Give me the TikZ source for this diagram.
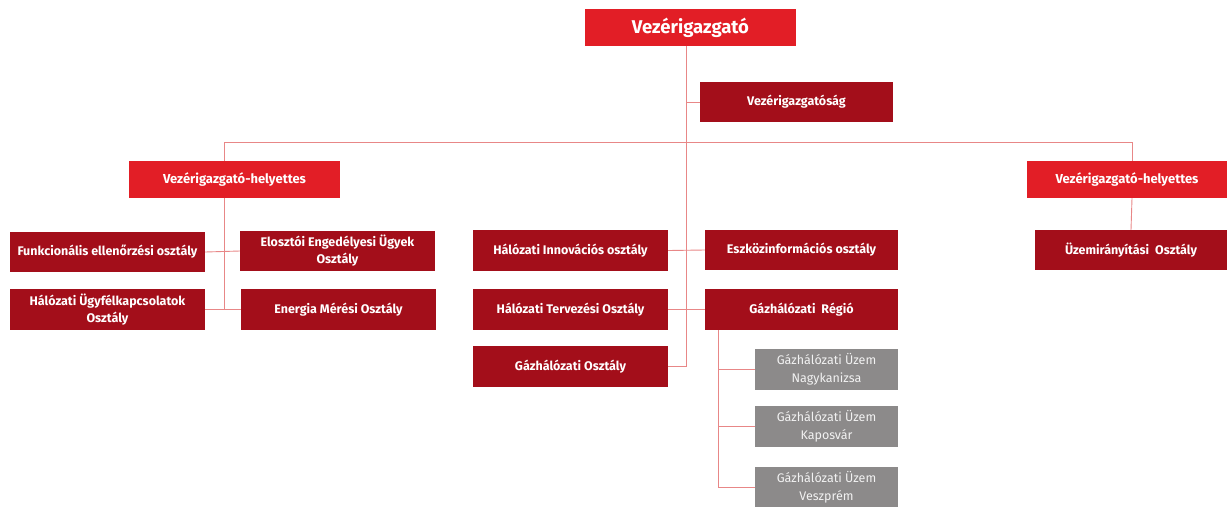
\documentclass[tikz,border=0pt]{standalone}
\usepackage{fontspec}
\setmainfont{Fira Sans}
\usepackage{xcolor}
\usepackage{tikz}
\usetikzlibrary{positioning,calc}

\definecolor{topred}{RGB}{226,30,38}
\definecolor{darkred}{RGB}{163,14,26}
\definecolor{unitgray}{RGB}{140,138,138}
\definecolor{linkred}{RGB}{232,135,135}

\begin{document}
\begin{tikzpicture}[x=1pt,y=-1pt,
    headbox/.style={rectangle, fill=topred, text=white, font=\bfseries\fontsize{13}{15}\selectfont, minimum height=37pt, inner sep=2pt, align=center},
    deptbox/.style={rectangle, fill=darkred, text=white, font=\bfseries\fontsize{12.5}{17}\selectfont, minimum width=195pt, minimum height=41pt, inner sep=2pt, align=center},
    plantbox/.style={rectangle, fill=unitgray, text=white!90!gray, font=\fontsize{12.5}{18}\selectfont, minimum width=143pt, minimum height=41pt, inner sep=1pt, align=center},
    link/.style={draw=linkred, line width=0.9pt}]
    \useasboundingbox (0,0) rectangle (1227,507);

    % vezetes
    \node (ceo) [headbox, minimum width=211pt, font=\bfseries\fontsize{18.5}{22}\selectfont] at (690.5,27.5) {Vezérigazgató};
    \node (vig) [deptbox, minimum width=193pt, minimum height=40pt] at (796.5,102) {Vezérigazgatóság};
    \node (vhl) [headbox, minimum width=211pt] at (234.5,179.5) {Vezérigazgató-helyettes};
    \node (vhr) [headbox, minimum width=200pt] at (1127,179.5) {Vezérigazgató-helyettes};

    % bal oldal
    \node (fe) [deptbox, minimum height=40pt] at (107.5,252) {Funkcionális ellenőrzési osztály};
    \node (ee) [deptbox, minimum height=40pt] at (337.5,251) {Elosztói Engedélyesi Ügyek\\Osztály};
    \node (hu) [deptbox] at (107.5,309.5) {Hálózati Ügyfélkapcsolatok\\Osztály};
    \node (em) [deptbox] at (338.5,309.5) {Energia Mérési Osztály};

    % kozep
    \node (hi) [deptbox] at (570.5,250.5) {Hálózati Innovációs osztály};
    \node (ei) [deptbox, minimum width=193pt, minimum height=40pt] at (801.5,250) {Eszközinformációs osztály};
    \node (ht) [deptbox] at (570.5,309.5) {Hálózati Tervezési Osztály};
    \node (gr) [deptbox, minimum width=193pt] at (801.5,309.5) {Gázhálózati \ Régió};
    \node (go) [deptbox] at (570.5,366.5) {Gázhálózati Osztály};

    % uzemek
    \node (gu1) [plantbox] at (826.5,369.5) {Gázhálózati Üzem\\Nagykanizsa};
    \node (gu2) [plantbox] at (826.5,426.5) {Gázhálózati Üzem\\Kaposvár};
    \node (gu3) [plantbox, minimum height=40pt] at (826.5,487) {Gázhálózati Üzem\\Veszprém};

    % jobb oldal
    \node (uo) [deptbox, minimum width=192pt, minimum height=40pt] at (1131,250) {Üzemirányítási \ Osztály};

    % vonalak
    \coordinate (trunk) at ([xshift=-4.5pt]ceo.south);
    \draw [link] (trunk) |- (go.east);
    \draw [link] (vig.west) -- (vig.west -| trunk);
    \draw [link] ([xshift=-10.5pt]vhl.north) -- ++(0,-18) -| ([xshift=5pt]vhr.north);
    \draw [link] ([xshift=-10.5pt]vhl.south) -- ([xshift=-10.5pt]vhl.south |- hu.east);
    \draw [link] (fe.east) -- (ee.west);
    \draw [link] (hu.east) -- (em.west);
    \draw [link] (hi.east) -- (ei.west);
    \draw [link] (ht.east) -- (gr.west);
    \draw [link] ([xshift=5pt]vhr.south) -- (uo.north);
    \coordinate (gtrunk) at ([xshift=14pt]gr.south west);
    \draw [link] (gtrunk) |- (gu3.west);
    \draw [link] (gtrunk |- gu1.west) -- (gu1.west);
    \draw [link] (gtrunk |- gu2.west) -- (gu2.west);
\end{tikzpicture}
\end{document}
